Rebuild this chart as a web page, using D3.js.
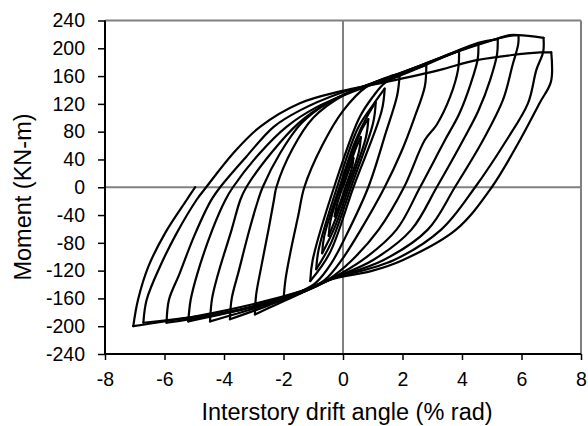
<!DOCTYPE html>
<html><head><meta charset="utf-8">
<script src="https://cdn.jsdelivr.net/npm/d3@7"></script>
<style>body{margin:0;background:#fff}svg{display:block}</style>
</head><body><svg id="c" width="588" height="426"></svg>
<script>
const xTicks = [-8,-6,-4,-2,0,2,4,6,8];
const yTicks = [-240,-200,-160,-120,-80,-40,0,40,80,120,160,200,240];
const xLabel = "Interstory drift angle (% rad)";
const yLabel = "Moment (KN-m)";

// hysteresis record, cycle by cycle: [drift %, moment kN-m]
const cycle1 = [[0,0],[0.2,25],[0.35,42],[0.3,28],[0.08,0],[-0.12,-25],[-0.28,-42],[-0.22,-28],[-0.02,0],[0.2,28]];
const cycle2 = [[0.45,58],[0.6,72],[0.53,50],[0.14,0],[-0.2,-40],[-0.48,-70],[-0.42,-48],[-0.08,0],[0.28,45]];
const cycle3 = [[0.65,85],[0.85,98],[0.77,72],[0.2,0],[-0.3,-60],[-0.7,-95],[-0.63,-70],[-0.12,0],[0.4,65]];
const cycle4 = [[0.85,105],[1.1,122],[1.01,92],[0.27,0],[-0.4,-80],[-0.9,-118],[-0.82,-90],[-0.2,0],[0.5,85]];
const cycle5 = [[1.0,118],[1.4,142],[1.3,110],[0.35,0],[-0.45,-95],[-1.1,-135],[-1.02,-105],[-0.3,0],[0.55,100],[1.0,130]];
const cycle6 = [[1.4,150],[1.9,160],[1.82,132],[1.45,80],[0.85,0],[0.1,-70],[-0.4,-110],[-0.9,-137],[-1.4,-150],[-2.0,-162],[-1.93,-132],[-1.75,-90],[-1.5,-40],[-1.3,0],[-0.7,60],[0,110],[0.8,145],[1.6,160]];
const cycle7 = [[1.9,163],[2.8,176],[2.75,145],[2.4,100],[1.95,50],[1.4,0],[0.6,-61],[-0.05,-105],[-0.6,-133],[-1.3,-150],[-2.2,-168],[-2.96,-183],[-2.92,-155],[-2.75,-115],[-2.5,-60],[-2.32,-18],[-2.24,0],[-1.7,55],[-1.0,100],[0,132],[1.0,150],[1.9,164],[2.8,178]];
const cycle8 = [[3.9,196],[3.87,170],[3.6,130],[3.15,90],[2.75,68],[2.05,0],[1.2,-61],[0.3,-105],[-0.5,-133],[-1.3,-150],[-2.5,-170],[-3.8,-190],[-3.74,-160],[-3.5,-120],[-3.15,-62],[-2.85,-18],[-2.7,0],[-2.1,50],[-1.4,92],[-0.5,122],[0.5,142],[1.8,162],[3.0,182],[3.9,197]];
const cycle9 = [[4.55,207],[4.53,185],[4.3,150],[3.9,105],[3.43,68],[2.59,0],[1.8,-61],[0.65,-105],[-0.45,-133],[-1.3,-150],[-2.8,-172],[-4.47,-193],[-4.4,-160],[-4.2,-125],[-3.75,-62],[-3.45,-18],[-3.25,0],[-2.4,50],[-1.5,92],[-0.5,122],[0.6,143],[1.8,162],[3.2,185],[4.55,208]];
const cycle10 = [[5.2,213],[5.18,192],[4.95,155],[4.55,110],[4.04,68],[3.15,0],[2.3,-61],[1.0,-105],[-0.45,-133],[-1.3,-150],[-3.0,-172],[-5.2,-193],[-5.12,-162],[-4.9,-125],[-4.4,-62],[-3.95,-18],[-3.7,0],[-2.8,49],[-1.9,87],[-0.9,115],[0.3,137],[1.8,160],[3.5,190],[5.2,214]];
const cycle11 = [[5.6,219],[5.9,219],[5.89,206],[5.7,176],[5.38,126],[4.71,68],[3.76,0],[2.85,-61],[1.35,-105],[-0.45,-133],[-1.3,-149],[-3.3,-175],[-5.93,-195],[-5.85,-162],[-5.5,-125],[-5.0,-70],[-4.45,-20],[-4.13,0],[-3.25,44],[-2.33,87],[-1.43,111],[-0.13,135],[1.8,159],[4.0,198],[5.5,217],[5.9,219]];
const cycle12 = [[6.74,215],[6.73,195],[6.5,169],[6.22,121],[5.5,68],[4.44,0],[3.3,-61],[1.7,-105],[-0.44,-133],[-1.3,-148],[-3.5,-176],[-6.71,-195],[-6.6,-162],[-6.15,-114],[-5.59,-66],[-4.92,-18],[-4.6,0],[-3.69,49],[-2.79,87],[-1.45,121],[-0.1,138],[1.5,152],[3.26,169],[4.49,183],[6.62,194],[7.0,194]];
const cycle13 = [[6.99,152],[6.62,122],[5.95,68],[5.0,0],[3.8,-61],[2.0,-105],[1.0,-120],[-0.44,-133],[-1.3,-148],[-3.0,-168],[-5.0,-186],[-7.05,-200],[-6.89,-162],[-6.54,-114],[-5.98,-66],[-5.25,-18],[-4.97,0]];

const record = [].concat(cycle1,cycle2,cycle3,cycle4,cycle5,cycle6,cycle7,cycle8,cycle9,cycle10,cycle11,cycle12,cycle13);

const svg = d3.select("#c");
const L = 105, R = 581, T = 20.5, B = 354;
const x = d3.scaleLinear().domain([-8,8]).range([L,R]);
const y = d3.scaleLinear().domain([-240,240]).range([B,T]);
const font = "'Liberation Sans', Arial, sans-serif";

// plot-area border (gray top/right)
svg.append("line").attr("x1",L).attr("x2",R).attr("y1",T).attr("y2",T).attr("stroke","#808080").attr("stroke-width",2);
svg.append("line").attr("x1",R).attr("x2",R).attr("y1",T).attr("y2",B).attr("stroke","#808080").attr("stroke-width",2);
// zero lines
svg.append("line").attr("x1",L).attr("x2",R).attr("y1",y(0)).attr("y2",y(0)).attr("stroke","#808080").attr("stroke-width",2);
svg.append("line").attr("x1",x(0)).attr("x2",x(0)).attr("y1",T).attr("y2",B).attr("stroke","#808080").attr("stroke-width",2);

// split record into branches at drift reversals (sharp corners at peaks)
const branches = [];
let cur = [record[0]];
for (let i = 1; i < record.length; i++) {
  cur.push(record[i]);
  if (i < record.length - 1) {
    const a = record[i][0] - record[i-1][0], b = record[i+1][0] - record[i][0];
    if (a * b < 0) { branches.push(cur); cur = [record[i]]; }
  }
}
branches.push(cur);

const line = d3.line().x(d=>x(d[0])).y(d=>y(d[1])).curve(d3.curveCatmullRom.alpha(0.5));
svg.append("g").selectAll("path").data(branches).join("path").attr("d",line).attr("fill","none")
  .attr("stroke","#000").attr("stroke-width",2.2).attr("stroke-linejoin","round").attr("stroke-linecap","round");

// axes
const ax = svg.append("g").attr("transform",`translate(0,${B})`)
  .call(d3.axisBottom(x).tickValues(xTicks).tickSize(6).tickSizeOuter(0).tickPadding(12).tickFormat(d3.format("d")));
const ay = svg.append("g").attr("transform",`translate(${L},0)`)
  .call(d3.axisLeft(y).tickValues(yTicks).tickSize(7).tickSizeOuter(0).tickPadding(13).tickFormat(d3.format("d")));
[ax,ay].forEach(g=>{
  g.select(".domain").attr("stroke","#000").attr("stroke-width",2);
  g.selectAll(".tick line").attr("stroke","#000").attr("stroke-width",1.5);
  g.selectAll(".tick text").attr("fill","#000").style("font-family",font).style("font-size","19.5px");
});
ax.selectAll(".domain").attr("d",`M${L},0H${R}`);
ay.selectAll(".domain").attr("d",`M0,${T}V${B}`);
ax.selectAll(".tick text").text(d=>d<0?"-"+Math.abs(d):d);
ay.selectAll(".tick text").text(d=>d<0?"-"+Math.abs(d):d);

svg.append("text").attr("x",347).attr("y",420).attr("text-anchor","middle")
  .style("font-family",font).style("font-size","23.5px").attr("fill","#000").text(xLabel);
svg.append("text").attr("transform","translate(31,197) rotate(-90)").attr("text-anchor","middle")
  .style("font-family",font).style("font-size","23.5px").attr("fill","#000").text(yLabel);
</script></body></html>
